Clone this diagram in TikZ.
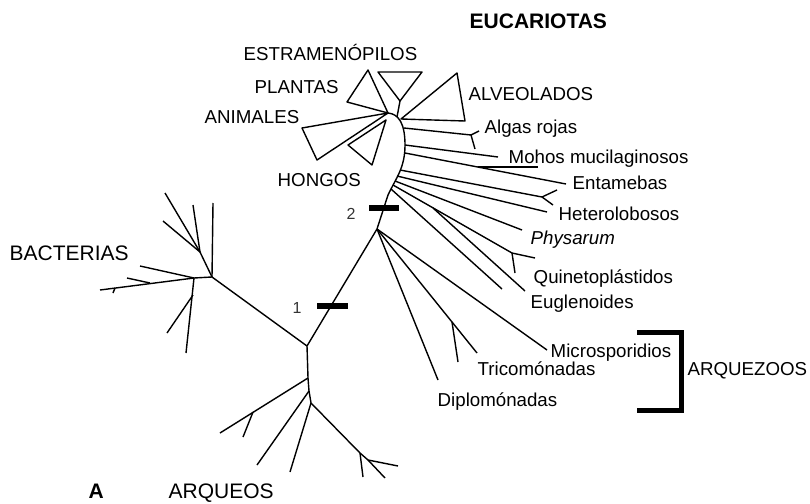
\documentclass[tikz,border=0pt]{standalone}
\usepackage{fontspec}
\setmainfont{Liberation Sans}
\tikzset{
  every picture/.style={x=1pt, y=-1pt, line width=1.4pt},
  branch/.style={draw=black, line width=1.4pt, line join=round},
  biglabel/.style={font=\fontsize{21}{25}\selectfont, inner sep=0pt, anchor=base west},
  taxon/.style={font=\fontsize{18.7}{22}\selectfont, inner sep=0pt, anchor=base west},
  cutbar/.style={fill=black},
  cutnum/.style={font=\fontsize{16}{19}\selectfont, text=black!80, inner sep=0pt},
  bracket/.style={draw=black, line width=5pt, line join=miter},
}

\begin{document}
\begin{tikzpicture}
  \useasboundingbox (0,0) rectangle (810,503);
  % bacterias
  \coordinate (bac) at (212,277);
  \coordinate (bacA) at (200,252);
  \coordinate (bacB) at (194,278);
  \coordinate (root) at (307,346);
  \draw[branch] (bac) -- (root);
  \draw[branch] (bac) -- (213,203);
  \draw[branch] (bac) -- (bacA);
  \foreach \p in {(165,193),(163,221),(193,205)} \draw[branch] (bacA) -- \p;
  \draw[branch] (bac) -- (bacB);
  \foreach \p in {(140,266),(100,290),(186,353)} \draw[branch] (bacB) -- \p;
  \draw[branch] (127,278) -- (150,283);
  \draw[branch] (115,288) -- (113,293);
  \draw[branch] (193,295) -- (167,333);
  % arqueos
  \coordinate (arqA) at (308,378);
  \coordinate (arqB) at (311,403);
  \coordinate (arqC) at (360,453);
  \coordinate (arqD) at (368,460);
  \draw[branch] (root) -- (arqA) -- (309,391) -- (arqB) -- (arqC) -- (arqD);
  \draw[branch] (arqA) -- (220,433);
  \draw[branch] (253,412) -- (243,437);
  \draw[branch] (309,391) -- (257,465);
  \draw[branch] (arqB) -- (290,472);
  \draw[branch] (arqC) -- (363,477);
  \foreach \p in {(398,466),(385,478)} \draw[branch] (arqD) -- \p;
  % eucariotas: stem
  \coordinate (euk) at (377,229);
  \coordinate (top) at (388,113);
  \draw[branch] (root) -- (euk) -- (388,195) .. controls (396,178) and (405,168) .. (405,145)
    .. controls (405,124) and (399,114) .. (top);
  % archezoa
  \foreach \p in {(438,380),(477,353),(547,350)} \draw[branch] (euk) -- \p;
  \draw[branch] (452,322) -- (458,362);
  % other eukaryote lines
  \draw[branch] (404,128) -- (471,135) -- (479,131);
  \draw[branch] (471,135) -- (475,149);
  \draw[branch] (405,145) -- (498,157);
  \draw[branch] (405,153) -- (566,184);
  \draw[branch] (478,167) -- (538,167);
  \draw[branch] (400,170) -- (542,197) -- (557,190);
  \draw[branch] (542,197) -- (553,205);
  \draw[branch] (397,176) -- (547,212);
  \draw[branch] (395,181) -- (522,230);
  \draw[branch] (393,185) -- (512,253) -- (535,258);
  \draw[branch] (512,253) -- (515,273);
  \draw[branch] (433,208) -- (525,291);
  \draw[branch] (391,189) -- (502,289);
  % crown groups
  \draw[branch] (top) -- (368,70) -- (347,102) -- cycle;
  \draw[branch] (378,72) -- (422,72) -- (400,101) -- cycle;
  \draw[branch] (400,101) -- (397,117);
  \draw[branch] (401,119) -- (457,73) -- (465,121) -- cycle;
  \draw[branch] (top) -- (302,128) -- (317,160) -- cycle;
  \draw[branch] (386,120) -- (348,145) -- (372,165) -- cycle;
  % bars 1 and 2
  \fill[cutbar] (317,303) rectangle (348,309);
  \fill[cutbar] (369,205) rectangle (399,211);
  \node[cutnum] (num1) at (297,307.5) {1};
  \node[cutnum] (num2) at (351,214) {2};
  % bracket
  \draw[bracket] (637,332) -| (681,410) -- (637,410);
  % labels
  \node[biglabel] (eucariotas) at (469,28.5) {\bfseries EUCARIOTAS};
  \node[taxon] (estra) at (243,60) {ESTRAMENÓPILOS};
  \node[taxon] (plantas) at (254,93) {PLANTAS};
  \node[taxon, anchor=base east] (animales) at (300,123) {ANIMALES};
  \node[taxon] (hongos) at (277,186) {HONGOS};
  \node[taxon] (alveolados) at (468,100) {ALVEOLADOS};
  \node[taxon] (algas) at (484,133.5) {Algas rojas};
  \node[taxon] (mohos) at (508,163) {Mohos mucilaginosos};
  \node[taxon] (entamebas) at (572,189) {Entamebas};
  \node[taxon] (hetero) at (558,220) {Heterolobosos};
  \node[taxon] (physarum) at (530,244) {\itshape Physarum};
  \node[taxon] (quineto) at (533,283) {Quinetoplástidos};
  \node[taxon] (euglen) at (530,308) {Euglenoides};
  \node[taxon] (micro) at (550,357) {Microsporidios};
  \node[taxon] (trico) at (477,375) {Tricomónadas};
  \node[taxon] (diplo) at (437,406) {Diplomónadas};
  \node[taxon] (arquezoos) at (687,375) {ARQUEZOOS};
  \node[biglabel] (bacterias) at (9,260) {BACTERIAS};
  \node[biglabel] (arqueos) at (168,498.5) {ARQUEOS};
  \node[biglabel] (panel) at (88,498.5) {\bfseries A};
\end{tikzpicture}
\end{document}
